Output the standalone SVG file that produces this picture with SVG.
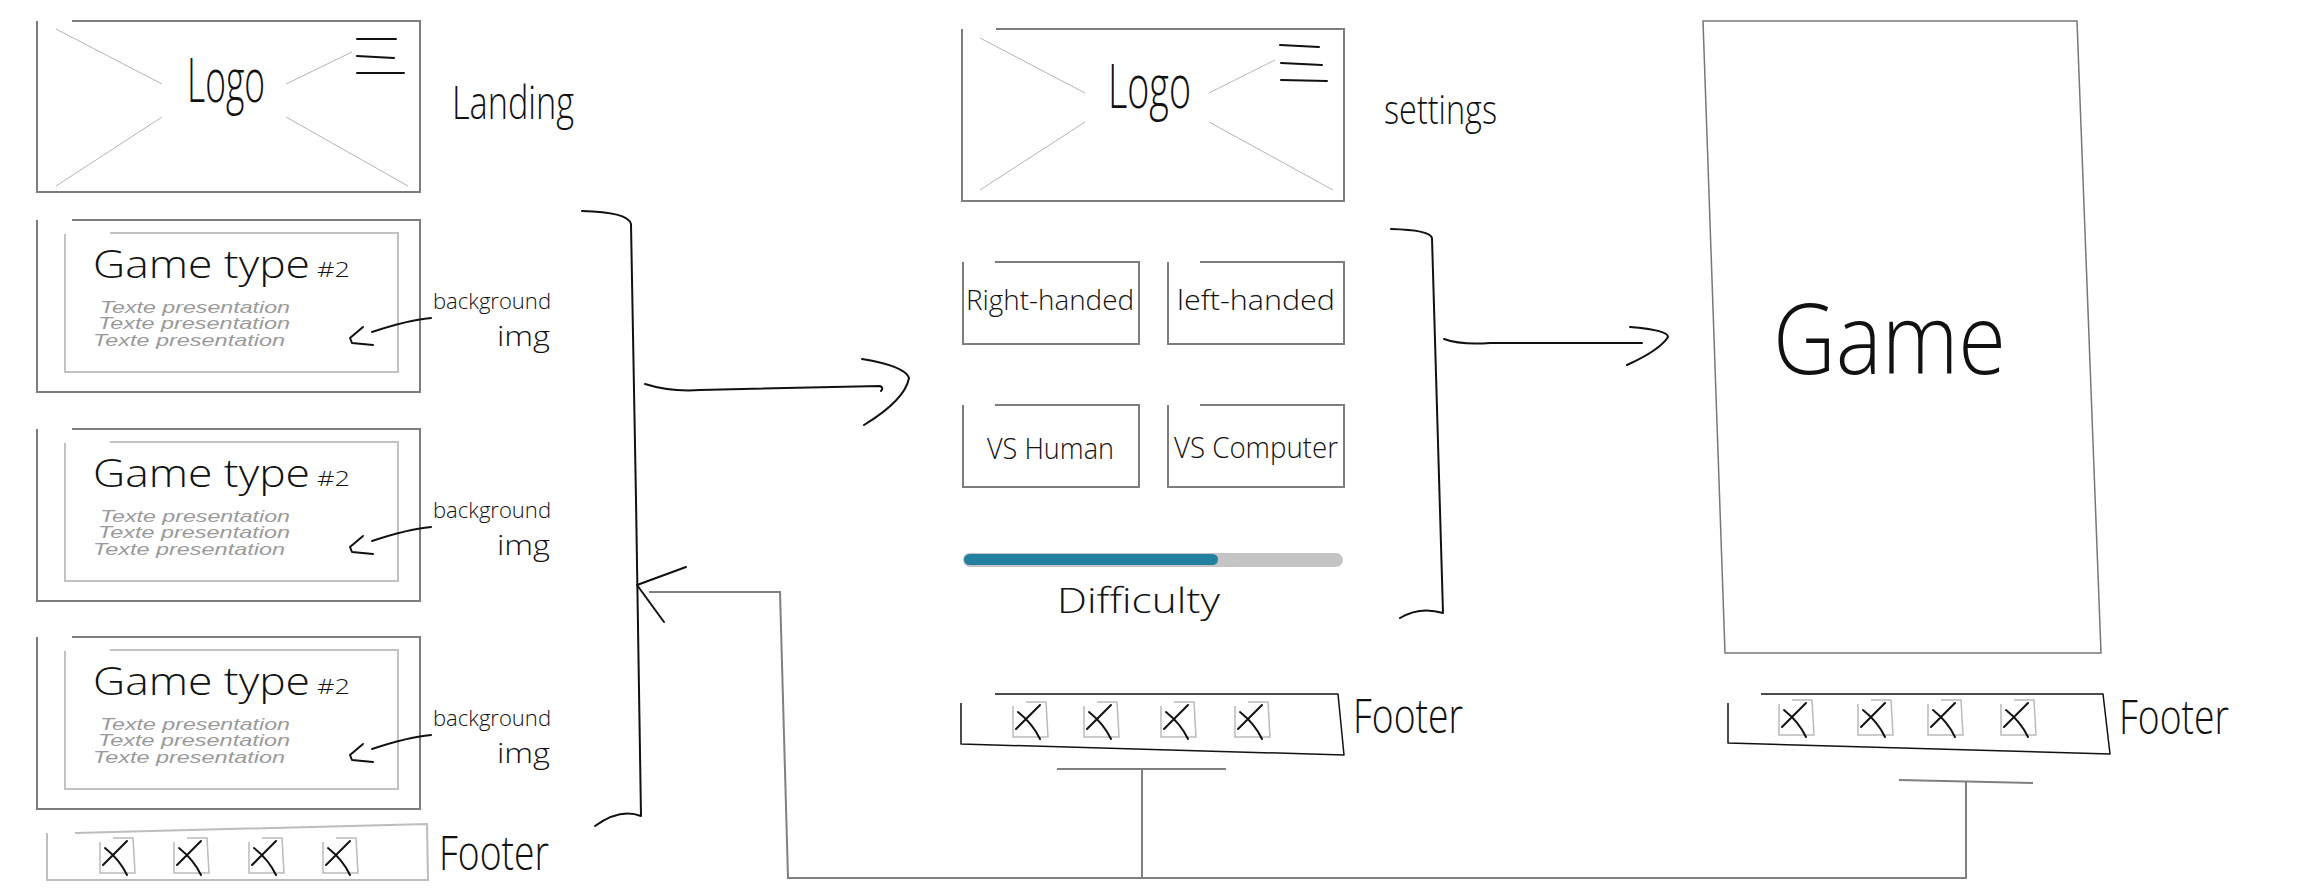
<svg xmlns="http://www.w3.org/2000/svg" xmlns:xlink="http://www.w3.org/1999/xlink" width="2299" height="896" viewBox="0 0 2299 896">
<style>
.frame{fill:none;stroke:#7d7d7d;stroke-width:2}
.inner{fill:none;stroke:#c2c2c2;stroke-width:2}
.xl{fill:none;stroke:#b4b4b4;stroke-width:1}
.ink{fill:none;stroke:#111;stroke-width:2;stroke-linecap:round;stroke-linejoin:round}
.inkt{fill:none;stroke:#111;stroke-width:1.5;stroke-linejoin:round}
.conn{fill:none;stroke:#808080;stroke-width:2}
.lfoot{fill:none;stroke:#bdbdbd;stroke-width:2}
.hw{font-family:"Open Sans","Liberation Sans",sans-serif;font-weight:300;fill:#111}
.pres{font-family:"Liberation Sans",sans-serif;font-style:italic;fill:#9a9a9a;font-size:17px}
</style>
<defs>
<g id="icon">
<path d="M0 4 V35 H35 L33 0 H13" fill="none" stroke="#bbb" stroke-width="1.5"/>
<path d="M3 27 L27 3 M5 10 Q20 22 27 37" class="ink"/>
</g>
<g id="gamecard">
<path class="frame" d="M37 0 V172 H420 V0 H72"/>
<path class="inner" d="M65 14 V152 H398 V13 H110"/>
<text class="hw" x="93" y="58" font-size="38" textLength="217" lengthAdjust="spacingAndGlyphs">Game type</text>
<text class="hw" x="317" y="57" font-size="20" textLength="33" lengthAdjust="spacingAndGlyphs">#2</text>
<text class="pres" x="100" y="93" textLength="190" lengthAdjust="spacingAndGlyphs">Texte presentation</text>
<text class="pres" x="98" y="109" textLength="192" lengthAdjust="spacingAndGlyphs">Texte presentation</text>
<text class="pres" x="93" y="126" textLength="192" lengthAdjust="spacingAndGlyphs">Texte presentation</text>
<text class="hw" x="433" y="89" font-size="22" textLength="118" lengthAdjust="spacingAndGlyphs">background</text>
<text class="hw" x="497" y="126" font-size="28" textLength="53" lengthAdjust="spacingAndGlyphs">img</text>
<path class="ink" d="M431 98 C410 100 390 106 372 112 M363 107 L350 118 L352 123 L373 125"/>
</g>
</defs>

<g id="landing-header">
<path class="frame" d="M37 21 V192 H420 V21 H72"/>
<path class="xl" d="M56 29 L162 84 M286 84 L352 52 M56 186 L162 117 M286 117 L408 186"/>
<text class="hw" x="187" y="102" font-size="60" textLength="78" lengthAdjust="spacingAndGlyphs">Logo</text>
<path class="ink" d="M357 39 L396 39 M357 56 L394 58 M357 73 L404 73"/>
</g>
<g id="landing-label"><text class="hw" x="452" y="119" font-size="46" textLength="122" lengthAdjust="spacingAndGlyphs">Landing</text></g>
<g id="game-card-1"><use xlink:href="#gamecard" href="#gamecard" y="220"/></g>
<g id="game-card-2"><use xlink:href="#gamecard" href="#gamecard" y="429"/></g>
<g id="game-card-3"><use xlink:href="#gamecard" href="#gamecard" y="637"/></g>
<g id="landing-footer">
<path class="lfoot" d="M75 833 L427 824 L428 880 L47 880 L47 833"/>
<use href="#icon" xlink:href="#icon" x="100" y="838"/>
<use href="#icon" xlink:href="#icon" x="174" y="838"/>
<use href="#icon" xlink:href="#icon" x="249" y="838"/>
<use href="#icon" xlink:href="#icon" x="323" y="838"/>
<text class="hw" x="439" y="870" font-size="48" textLength="110" lengthAdjust="spacingAndGlyphs">Footer</text>
</g>

<g id="settings-header">
<path class="frame" d="M962 29 V201 H1344 V29 H996"/>
<path class="xl" d="M980 38 L1085 93 M1209 93 L1275 60 M980 190 L1085 122 M1209 122 L1333 190"/>
<text class="hw" x="1108" y="108" font-size="60" textLength="83" lengthAdjust="spacingAndGlyphs">Logo</text>
<path class="ink" d="M1280 45 L1319 47 M1281 63 L1322 65 M1281 80 L1327 81"/>
</g>
<g id="settings-label"><text class="hw" x="1384" y="124" font-size="40" textLength="113" lengthAdjust="spacingAndGlyphs">settings</text></g>
<g id="btn-right">
<path class="frame" d="M963 262 V344 H1139 V262 H995"/>
<text class="hw" x="966" y="310" font-size="28" textLength="168" lengthAdjust="spacingAndGlyphs">Right-handed</text>
</g>
<g id="btn-left">
<path class="frame" d="M1168 262 V344 H1344 V262 H1200"/>
<text class="hw" x="1177" y="310" font-size="28" textLength="158" lengthAdjust="spacingAndGlyphs">left-handed</text>
</g>
<g id="btn-human">
<path class="frame" d="M963 405 V487 H1139 V405 H995"/>
<text class="hw" x="987" y="459" font-size="30" textLength="127" lengthAdjust="spacingAndGlyphs">VS Human</text>
</g>
<g id="btn-computer">
<path class="frame" d="M1168 405 V487 H1344 V405 H1200"/>
<text class="hw" x="1174" y="458" font-size="30" textLength="164" lengthAdjust="spacingAndGlyphs">VS Computer</text>
</g>
<g id="difficulty">
<rect x="963" y="553" width="380" height="14" rx="7" fill="#c4c4c4"/>
<rect x="964" y="554" width="254" height="11" rx="5.5" fill="#23809f"/>
<text class="hw" x="1057" y="613" font-size="34" textLength="163" lengthAdjust="spacingAndGlyphs">Difficulty</text>
</g>
<g id="settings-footer">
<path class="inkt" d="M995 694 H1338 L1344 755 L961 744 V703"/>
<use href="#icon" xlink:href="#icon" x="1013" y="702"/>
<use href="#icon" xlink:href="#icon" x="1084" y="702"/>
<use href="#icon" xlink:href="#icon" x="1161" y="702"/>
<use href="#icon" xlink:href="#icon" x="1235" y="702"/>
<text class="hw" x="1353" y="733" font-size="48" textLength="110" lengthAdjust="spacingAndGlyphs">Footer</text>
</g>

<g id="game-screen">
<path d="M1703 21 L2077 21 L2101 653 L1725 653 Z" fill="none" stroke="#777" stroke-width="1.5"/>
<text class="hw" x="1773" y="374" font-size="98" textLength="233" lengthAdjust="spacingAndGlyphs">Game</text>
</g>
<g id="game-footer">
<path class="inkt" d="M1761 694 H2103 L2110 754 L1728 743 V703"/>
<use href="#icon" xlink:href="#icon" x="1779" y="700"/>
<use href="#icon" xlink:href="#icon" x="1858" y="700"/>
<use href="#icon" xlink:href="#icon" x="1928" y="700"/>
<use href="#icon" xlink:href="#icon" x="2001" y="700"/>
<text class="hw" x="2119" y="734" font-size="48" textLength="110" lengthAdjust="spacingAndGlyphs">Footer</text>
</g>

<g id="connectors">
<path class="ink" d="M582 211 Q628 212 631 224 L636 500 L641 816 Q620 808 595 826"/>
<path class="ink" d="M645 384 Q670 392 700 390 L880 386 Q884 388 881 391 M862 359 Q905 366 909 378 Q905 400 864 425"/>
<path class="ink" d="M1391 229 Q1430 230 1432 238 L1443 613 Q1420 606 1400 618"/>
<path class="ink" d="M1444 339 Q1460 345 1490 343 L1642 343 M1630 327 Q1668 330 1668 337 Q1660 350 1627 365"/>
<path class="ink" d="M686 567 L637 585 L664 622"/>
<path class="conn" d="M649 592 L780 592 L788 878 L1966 878 L1966 782"/>
<path class="conn" stroke-width="2.5" d="M1899 780 L2033 783"/>
<path class="conn" stroke-width="3" d="M1057 769 H1226"/>
<path class="conn" d="M1142 769 V878"/>
</g>
</svg>
